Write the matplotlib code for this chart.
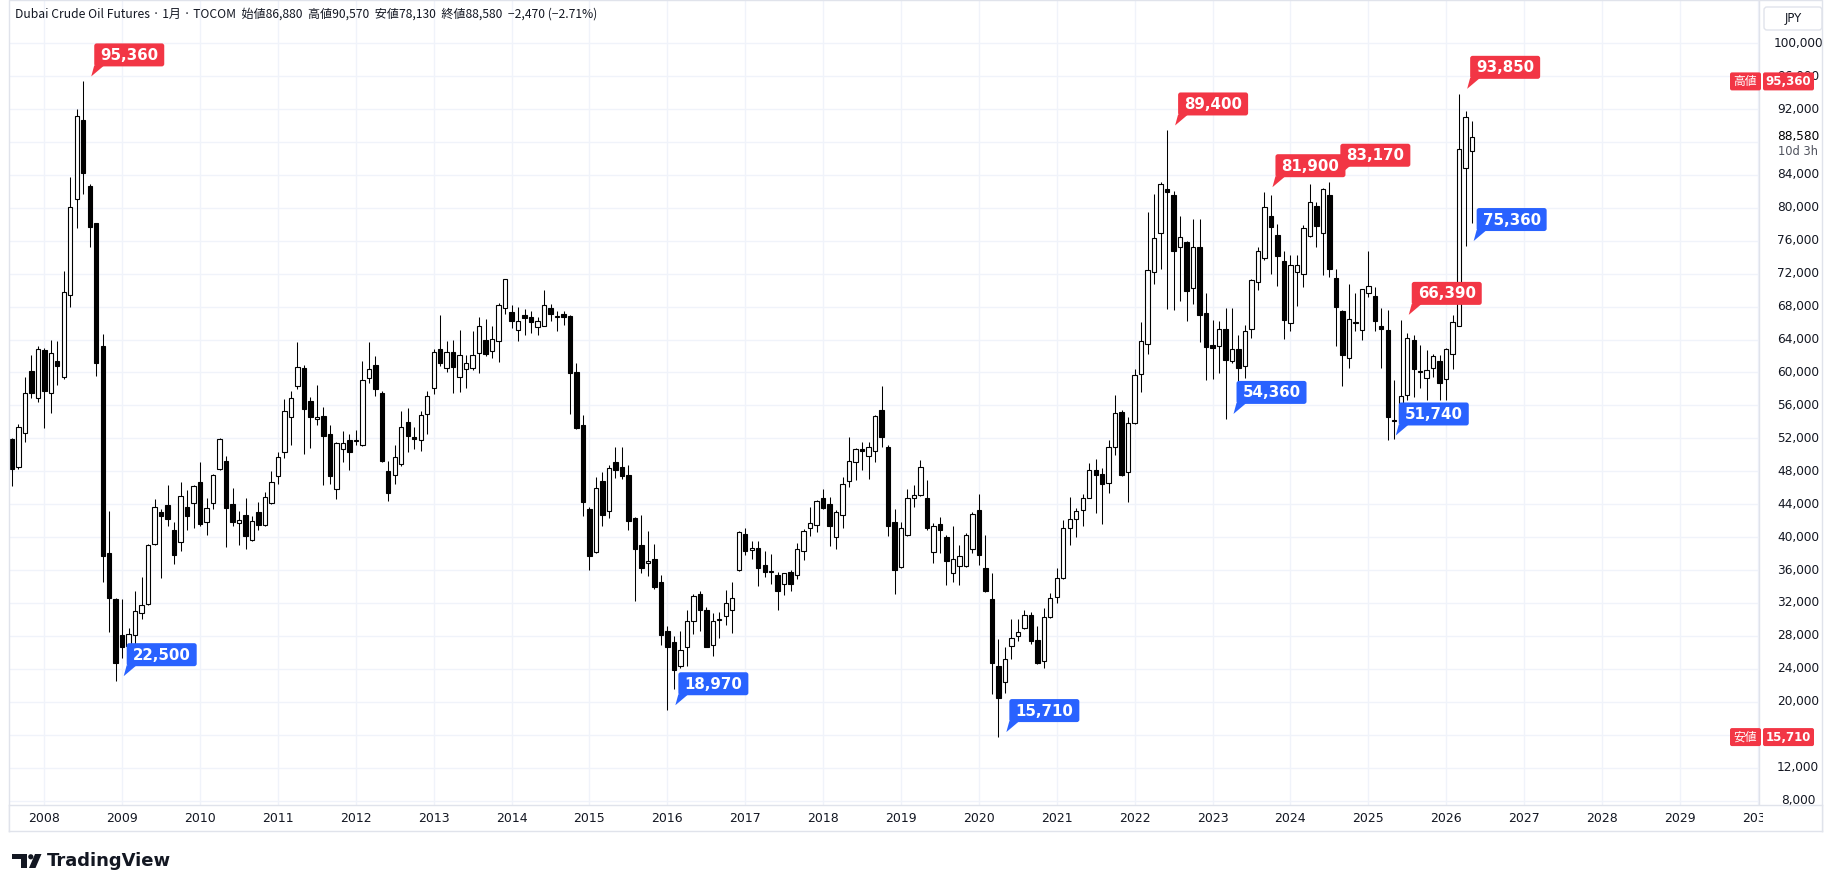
import matplotlib.pyplot as plt
from matplotlib.patches import Polygon, Circle, FancyBboxPatch
from matplotlib.transforms import Bbox
import numpy as np

W, H = 1829, 892

# monthly candles 2007-08 .. 2026-05, thousand yen
opens = [
    51.9, 48.5, 52.7, 60.2, 56.9,
    62.7, 57.5, 61.4, 59.5, 69.4, 81.1, 90.7, 82.7, 78.1, 63.2, 38.1, 32.5,
    28.1, 26.8, 28.1, 30.8, 31.9, 39.2, 43.1, 43.9, 40.9, 39.4, 43.6, 44.2,
    46.7, 41.8, 44.2, 48.3, 49.2, 44.0, 41.7, 42.7, 39.7, 43.0, 41.5, 44.1,
    47.4, 50.4, 54.6, 58.3, 60.6, 56.5, 54.3, 54.7, 52.5, 45.8, 50.7, 51.8,
    51.7, 51.2, 59.3, 60.9, 57.5, 48.0, 47.6, 48.9, 54.0, 52.2, 51.8, 54.9,
    58.1, 62.9, 60.6, 62.5, 59.5, 60.4, 60.6, 62.4, 63.9, 62.6, 63.8, 67.8,
    67.4, 65.1, 67.0, 66.7, 65.5, 65.7, 67.8, 66.8, 67.1, 66.9, 60.1, 53.6,
    43.4, 38.2, 46.8, 43.2, 49.1, 48.5, 47.6, 42.3, 39.0, 36.8, 37.4, 34.5,
    28.6, 27.3, 24.4, 26.7, 29.8, 33.1, 31.2, 26.9, 29.9, 30.4, 31.2, 36.0,
    40.4, 38.4, 38.7, 36.6, 35.8, 35.4, 34.3, 35.8, 35.4, 38.3, 41.1, 41.5,
    44.8, 44.0, 40.0, 42.7, 46.8, 49.1, 50.7, 49.8, 50.5, 55.4, 51.0, 41.8,
    36.4, 40.2, 44.8, 45.1, 44.8, 38.2, 41.6, 40.0, 35.7, 36.5, 36.5, 38.6,
    43.3, 36.2, 32.5, 24.3, 22.4, 26.8, 28.0, 29.0, 30.5, 27.5, 24.9, 30.3,
    32.7, 35.0, 41.1, 42.2, 43.3, 44.8, 48.1, 47.7, 46.6, 51.0, 55.2, 47.9,
    53.9, 59.8, 63.5, 72.2, 77.0, 82.3, 81.5, 75.2, 75.9, 70.3, 75.3, 67.2,
    63.3, 63.2, 65.3, 61.4, 62.9, 60.8, 65.3, 71.0, 73.9, 79.0, 76.7, 73.5,
    66.0, 72.2, 72.0, 76.6, 80.2, 77.0, 81.6, 71.5, 67.5, 61.7, 66.0, 65.1,
    69.6, 69.3, 65.6, 65.1, 54.1, 54.3, 57.3, 64.0, 60.0, 59.3, 60.5, 61.4,
    59.2, 62.2, 65.7, 84.9, 86.88,
]
highs = [
    52.0, 53.8, 59.5, 62.1, 63.2,
    63.0, 64.0, 63.8, 72.3, 83.8, 92.0, 95.36, 82.9, 78.2, 64.7, 43.2, 32.6,
    32.5, 29.0, 33.5, 35.2, 39.2, 44.6, 43.4, 46.3, 41.8, 46.7, 45.7, 46.3,
    49.1, 44.7, 47.7, 52.0, 49.9, 46.0, 43.2, 44.8, 42.6, 44.3, 45.5, 48.0,
    50.3, 56.8, 57.8, 63.7, 60.9, 57.0, 58.5, 55.8, 53.6, 51.5, 52.9, 52.5,
    53.0, 61.4, 63.7, 62.0, 57.7, 49.2, 51.2, 55.3, 55.7, 53.4, 55.3, 57.8,
    62.8, 67.0, 63.8, 64.0, 65.1, 62.1, 65.0, 66.8, 66.5, 65.6, 68.4, 71.4,
    68.2, 67.9, 67.7, 67.5, 66.8, 70.0, 68.3, 67.5, 67.5, 67.0, 61.2, 54.8,
    43.7, 47.3, 47.9, 48.8, 50.9, 50.9, 48.8, 42.5, 42.7, 40.8, 39.2, 35.4,
    29.2, 28.0, 28.6, 31.2, 33.1, 33.5, 31.5, 30.8, 30.9, 33.6, 34.6, 40.8,
    41.1, 39.5, 39.5, 38.3, 38.0, 35.8, 35.7, 36.0, 39.3, 41.0, 43.6, 44.5,
    45.9, 44.9, 43.3, 47.3, 52.2, 50.8, 51.6, 51.6, 54.8, 58.3, 51.2, 43.4,
    41.8, 45.9, 46.3, 49.4, 46.9, 41.7, 42.4, 40.2, 41.3, 39.1, 40.5, 43.1,
    45.2, 40.3, 35.6, 27.6, 26.7, 30.0, 30.0, 31.2, 30.9, 29.2, 31.4, 33.2,
    36.2, 42.1, 44.9, 43.5, 45.2, 49.0, 49.5, 48.4, 51.8, 57.3, 55.4, 54.6,
    60.4, 66.1, 79.5, 81.7, 83.1, 89.4, 82.0, 79.0, 76.0, 78.7, 78.7, 69.6,
    66.4, 66.2, 67.8, 67.8, 64.6, 65.8, 71.3, 75.2, 81.9, 81.5, 78.0, 74.7,
    74.3, 74.3, 77.9, 82.9, 80.7, 82.4, 83.17, 72.6, 67.6, 70.7, 69.6, 70.2,
    74.7, 70.4, 67.8, 67.6, 59.1, 66.39, 64.8, 64.6, 63.3, 62.7, 62.3, 62.1,
    63.0, 67.0, 93.85, 91.8, 90.57,
]
lows = [
    46.2, 48.3, 51.5, 56.9, 56.4,
    53.3, 55.1, 58.5, 59.2, 67.9, 77.5, 81.7, 75.2, 59.6, 34.6, 28.5, 22.5,
    25.3, 24.0, 25.3, 30.0, 31.7, 39.0, 35.0, 41.4, 36.7, 38.3, 40.9, 41.1,
    41.4, 40.2, 43.4, 48.2, 38.8, 41.4, 39.1, 38.5, 39.5, 40.9, 41.4, 44.0,
    46.4, 49.6, 51.2, 58.0, 50.1, 50.8, 53.6, 46.3, 46.4, 44.6, 49.1, 48.1,
    51.2, 51.1, 58.7, 57.2, 49.1, 44.4, 46.4, 48.7, 50.4, 50.7, 50.5, 52.5,
    57.4, 60.8, 60.0, 57.5, 57.6, 58.1, 60.3, 59.9, 62.0, 61.8, 61.3, 67.1,
    65.4, 63.8, 64.6, 64.8, 64.6, 65.6, 66.3, 65.0, 65.8, 54.9, 53.1, 42.6,
    36.0, 38.1, 41.4, 42.3, 47.2, 47.1, 40.9, 32.3, 35.6, 35.3, 33.7, 26.9,
    18.97, 21.5, 24.1, 24.4, 28.2, 28.6, 26.6, 25.5, 27.8, 29.3, 28.3, 35.9,
    37.8, 37.3, 34.1, 35.2, 34.3, 31.1, 33.0, 33.5, 34.9, 37.2, 40.1, 40.6,
    43.4, 38.9, 38.6, 41.1, 46.1, 46.9, 48.2, 47.1, 49.1, 51.0, 40.1, 33.1,
    36.2, 40.1, 43.6, 45.0, 40.9, 36.8, 38.1, 34.2, 34.6, 34.2, 36.4, 38.1,
    36.6, 33.3, 20.9, 15.71, 21.1, 25.2, 27.4, 28.8, 27.0, 24.6, 24.1, 30.2,
    32.0, 34.9, 39.1, 40.0, 41.4, 44.7, 42.9, 41.6, 45.3, 50.0, 47.4, 44.3,
    53.7, 57.6, 62.3, 70.7, 72.6, 67.7, 67.6, 68.7, 66.3, 68.3, 63.7, 59.1,
    59.2, 59.9, 54.36, 61.1, 56.4, 59.3, 64.2, 70.0, 73.7, 72.0, 70.5, 64.1,
    65.0, 68.1, 70.4, 76.5, 75.2, 71.8, 71.6, 63.2, 58.4, 60.6, 65.0, 64.0,
    69.2, 65.0, 60.5, 51.74, 51.9, 53.1, 56.6, 57.0, 58.1, 56.7, 59.4, 56.7,
    56.7, 60.4, 65.6, 75.36, 78.13,
]
closes = [
    48.3, 53.4, 57.5, 57.5, 62.9,
    57.7, 62.4, 60.8, 69.8, 80.1, 91.1, 84.2, 77.7, 61.2, 37.7, 32.6, 24.7,
    26.6, 28.2, 31.0, 31.8, 39.0, 43.7, 42.6, 42.2, 37.8, 45.0, 42.6, 46.2,
    41.6, 43.5, 47.5, 51.9, 43.5, 41.8, 42.1, 40.1, 41.9, 41.5, 44.9, 46.7,
    49.7, 55.3, 56.9, 60.7, 55.6, 54.6, 54.6, 52.3, 47.4, 51.4, 51.4, 50.4,
    51.8, 59.1, 60.4, 58.0, 49.3, 45.3, 49.7, 53.4, 52.3, 51.9, 54.8, 57.2,
    62.5, 61.1, 62.5, 60.7, 62.1, 61.1, 62.1, 65.6, 62.2, 64.1, 68.2, 71.3,
    66.2, 66.2, 66.6, 66.1, 66.2, 68.2, 67.1, 66.9, 66.7, 59.9, 53.3, 44.3,
    37.7, 46.0, 42.7, 48.4, 48.2, 47.4, 41.9, 38.6, 36.3, 37.1, 34.0, 28.1,
    26.7, 23.9, 26.3, 29.8, 32.9, 31.2, 26.7, 29.8, 30.0, 32.0, 32.6, 40.6,
    38.3, 38.7, 36.2, 35.8, 35.85, 33.5, 35.6, 34.3, 38.5, 40.7, 41.7, 44.4,
    43.5, 41.4, 43.0, 46.5, 49.3, 50.7, 50.5, 50.9, 54.7, 52.2, 41.4, 36.0,
    41.1, 44.8, 45.1, 48.5, 41.1, 41.3, 40.9, 37.1, 37.4, 37.7, 40.3, 42.8,
    37.8, 33.4, 24.7, 20.4, 25.2, 27.7, 28.5, 30.5, 27.4, 24.7, 30.3, 32.6,
    35.0, 41.1, 42.2, 43.2, 44.8, 48.1, 47.5, 46.5, 51.0, 55.1, 47.5, 53.9,
    59.7, 63.8, 72.4, 76.3, 82.9, 81.9, 74.7, 76.4, 69.9, 75.3, 67.0, 63.1,
    63.0, 65.3, 61.5, 62.8, 60.6, 65.0, 71.2, 74.8, 80.1, 77.7, 74.2, 66.4,
    73.0, 73.1, 77.6, 80.7, 77.8, 82.3, 72.6, 67.9, 62.1, 66.5, 66.1, 70.1,
    70.5, 66.2, 65.3, 54.6, 54.2, 57.2, 64.2, 60.4, 60.2, 60.3, 62.0, 58.7,
    62.9, 66.1, 87.1, 91.05, 88.58,
]

first_year, first_month = 2007, 8
years = list(range(2008, 2031))
price_ticks = list(range(8, 101, 4))

# labelled swing points
high_marks = ["2008-07", "2022-06", "2023-09", "2024-07", "2025-06", "2026-03"]
low_marks = ["2008-12", "2016-01", "2020-04", "2023-03", "2025-04", "2026-04"]

RED = "#f23645"
BLUE = "#2962ff"
TXT = "#131722"
GRID = "#f0f3fa"
LINE = "#e0e3eb"
CJK = ["Noto Sans CJK JP", "DejaVu Sans"]

o = np.array(opens); h = np.array(highs); l = np.array(lows); c = np.array(closes)
n = len(o)
x = np.arange(n)


def month_index(s):
    yy, mm = map(int, s.split("-"))
    return (yy - first_year) * 12 + mm - first_month


year_idx = [month_index(f"{y}-01") for y in years]

fig = plt.figure(figsize=(W / 100, H / 100), dpi=100, facecolor="white")

# main price pane
ax = fig.add_axes([9 / W, 87 / H, 1750 / W, 805 / H])
ax.set_xlim(-0.44, 269.2)
ax.set_ylim(7.459, 105.248)
ax.set_xticks(year_idx)
ax.set_yticks(price_ticks)
ax.grid(True, color=GRID, lw=1)
ax.set_axisbelow(True)
ax.tick_params(length=0, labelleft=False, labelbottom=False)
for s in ax.spines.values():
    s.set_visible(False)

up = c >= o
ax.vlines(x, l, h, color="black", lw=0.75, zorder=2)
ax.bar(x, np.maximum(np.abs(c - o), 0.04), bottom=np.minimum(o, c), width=0.68,
       color=np.where(up, "white", "black"), edgecolor="black", linewidth=0.8, zorder=3)

# overlay in screen pixels (origin top-left)
ov = fig.add_axes([0, 0, 1, 1], zorder=5)
ov.set_xlim(0, W)
ov.set_ylim(H, 0)
ov.axis("off")
ov.patch.set_alpha(0)


def to_screen(i, p):
    dx, dy = ax.transData.transform((i, p))
    return dx, H - dy


def tag(i, p, color):
    xc, yc = to_screen(i, p)
    left, top = xc + 11, yc - 38
    ov.add_patch(FancyBboxPatch((left, top), 70, 23, boxstyle="round,pad=0,rounding_size=2.5",
                                fc=color, ec="none"))
    ov.add_patch(Polygon([(left, top + 22), (left + 10, top + 22), (xc + 8, yc - 5)],
                         closed=True, fc=color, ec="none"))
    ov.text(left + 35, top + 12, f"{p * 1000:,.0f}", color="white", fontsize=10.8,
            fontweight="bold", ha="center", va="center")


for m in high_marks:
    i = month_index(m)
    tag(i, h[i], RED)
for m in low_marks:
    i = month_index(m)
    tag(i, l[i], BLUE)

# price scale (88,000 gives way to the last price, 16,000 sits under the low tag)
for p in price_ticks:
    if p in (88, 16):
        continue
    _, yp = to_screen(0, p)
    ov.text(1798, yp, f"{p * 1000:,}", ha="center", va="center", fontsize=8.7, color=TXT, zorder=1)


def axis_tag(p, label):
    _, yp = to_screen(0, p)
    ov.add_patch(FancyBboxPatch((1730, yp - 9), 31, 18, boxstyle="round,pad=0,rounding_size=2",
                                fc=RED, ec="none", zorder=3))
    ov.text(1745.5, yp, label, color="white", fontsize=8.5, family=CJK, ha="center", va="center", zorder=4)
    ov.add_patch(FancyBboxPatch((1763, yp - 9), 51, 18, boxstyle="round,pad=0,rounding_size=2",
                                fc=RED, ec="none", zorder=3))
    ov.text(1788.5, yp, f"{p * 1000:,.0f}", color="white", fontsize=8.5, fontweight="bold",
            ha="center", va="center", zorder=4)


axis_tag(h.max(), "高値")
axis_tag(l.min(), "安値")

_, ylast = to_screen(0, c[-1])
ov.text(1798, ylast - 1, f"{c[-1] * 1000:,.0f}", ha="center", va="center", fontsize=8.7, color="black")
ov.text(1798, ylast + 14, "10d 3h", ha="center", va="center", fontsize=8.3, color="#50535e")

ov.add_patch(FancyBboxPatch((1764, 7), 58, 23, boxstyle="round,pad=0,rounding_size=3",
                            fc="white", ec=LINE, lw=1))
ov.text(1793, 18.5, "JPY", ha="center", va="center", fontsize=8.5, color=TXT)

# header
chg = (c[-1] - c[-2]) * 1000
pct = (c[-1] - c[-2]) / c[-2] * 100
header = (f"Dubai Crude Oil Futures · 1月 · TOCOM  始値{o[-1] * 1000:,.0f}  高値{h[-1] * 1000:,.0f}  "
          f"安値{l[-1] * 1000:,.0f}  終値{c[-1] * 1000:,.0f}  {chg:,.0f} ({pct:.2f}%)").replace("-", "−")
ov.text(15, 14, header, fontsize=8.7, family=CJK, color=TXT, va="center", ha="left")

# borders
ov.plot([9, 9, 1822, 1822], [831, 0, 0, 831], color=LINE, lw=1)
ov.plot([1759, 1759], [0, 805], color=LINE, lw=1)

# time scale
tax = fig.add_axes([9 / W, (H - 831) / H, 1813 / W, 26 / H], zorder=6)
tax.set_xlim(-0.44, -0.44 + 1813 / 6.49)
tax.set_ylim(0, 1)
tax.set_xticks([])
tax.set_yticks([])
for s in tax.spines.values():
    s.set_color(LINE)
    s.set_linewidth(1)
clip = Bbox.from_extents(0, 0, 1763, H)
for y, i in zip(years, year_idx):
    t = tax.text(i, 0.5, str(y), ha="center", va="center", fontsize=9, color=TXT)
    t.set_clip_on(True)
    t.set_clip_box(clip)

# logo
ov.add_patch(Polygon([(12, 854), (27, 854), (27, 868), (20.5, 868), (20.5, 859), (12, 859)],
                     closed=True, fc=TXT, ec="none"))
ov.add_patch(Circle((30.8, 856.8), 2.6, fc=TXT, ec="none"))
ov.add_patch(Polygon([(35, 854), (41.5, 854), (35.5, 868), (29, 868)], closed=True, fc=TXT, ec="none"))
ov.text(47, 861, "TradingView", fontsize=13, fontweight="bold", color=TXT, ha="left", va="center")

fig.savefig("out.png", dpi=100, facecolor="white")
